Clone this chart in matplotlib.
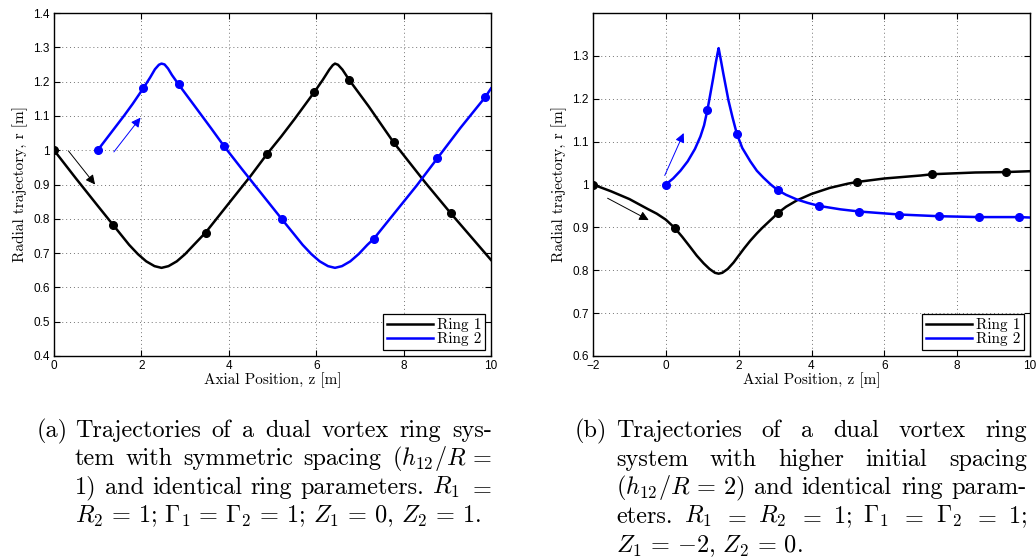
import numpy as np
import matplotlib
matplotlib.use("Agg")
import matplotlib.pyplot as plt

plt.rcParams['font.family'] = ['cmr10', 'DejaVu Serif']
plt.rcParams['mathtext.fontset'] = 'cm'
plt.rcParams['axes.formatter.use_mathtext'] = True

# ---- panel (a): symmetric spacing ----
a_z1 = [0, 0.5, 1.0, 1.36, 1.72, 1.92, 2.11, 2.3, 2.46, 2.62, 2.81, 3.0, 3.2, 3.47,
        4.0, 4.5, 4.87, 5.2, 5.5, 5.96, 6.15, 6.3, 6.38, 6.43, 6.5, 6.6, 6.76, 7.2, 7.77,
        8.5, 9.08, 10]
a_r1 = [1.0, 0.918, 0.838, 0.781, 0.724, 0.697, 0.676, 0.662, 0.657, 0.662, 0.676, 0.697,
        0.724, 0.760, 0.845, 0.925, 0.988, 1.04, 1.09, 1.170, 1.205, 1.235, 1.248, 1.2525,
        1.249, 1.235, 1.204, 1.128, 1.023, 0.905, 0.816, 0.68]
a_z2 = [1.0, 1.3, 1.6, 1.8, 2.04, 2.2, 2.31, 2.4, 2.46, 2.53, 2.61, 2.7, 2.85, 3.2, 3.6,
        3.89, 4.3, 4.8, 5.22, 5.5, 5.69, 5.89, 6.08, 6.27, 6.43, 6.59, 6.78, 6.97, 7.17, 7.32,
        7.8, 8.3, 8.77, 9.3, 9.87, 10]
a_r2 = [1.0, 1.05, 1.10, 1.135, 1.180, 1.212, 1.236, 1.249, 1.2525, 1.250, 1.238, 1.219,
        1.192, 1.132, 1.063, 1.012, 0.945, 0.865, 0.798, 0.754, 0.724, 0.697, 0.676, 0.662,
        0.657, 0.662, 0.676, 0.697, 0.724, 0.742, 0.818, 0.897, 0.976, 1.065, 1.155, 1.18]
a_mz1 = [0, 1.36, 3.47, 4.87, 5.96, 6.76, 7.77, 9.08]
a_mr1 = [1.0, 0.781, 0.760, 0.988, 1.170, 1.204, 1.023, 0.816]
a_mz2 = [1.0, 2.04, 2.85, 3.89, 5.22, 7.32, 8.77, 9.87]
a_mr2 = [1.0, 1.180, 1.192, 1.012, 0.798, 0.742, 0.976, 1.155]
a_arrows = [((0.33, 0.998), (0.94, 0.900), 'black'),
            ((1.37, 0.995), (1.98, 1.095), 'blue')]
a_yticks = [0.4, 0.5, 0.6, 0.7, 0.8, 0.9, 1.0, 1.1, 1.2, 1.3, 1.4]
a_ylabels = ['0.4', '0.5', '0.6', '0.7', '0.8', '0.9', '1', '1.1', '1.2', '1.3', '1.4']
a_xticks = [0, 2, 4, 6, 8, 10]

# ---- panel (b): higher initial spacing ----
b_z1 = [-2, -1.5, -1.0, -0.5, -0.25, 0, 0.24, 0.45, 0.67, 0.85, 1.04, 1.2, 1.35, 1.45,
        1.55, 1.7, 1.86, 2.0, 2.15, 2.32, 2.5, 2.65, 2.8, 2.95, 3.07, 3.3, 3.6, 4.0, 4.5,
        5.0, 5.26, 6.0, 7.0, 7.32, 8.5, 9.34, 10]
b_r1 = [1.0, 0.984, 0.966, 0.943, 0.932, 0.918, 0.899, 0.878, 0.854, 0.834, 0.816, 0.803,
        0.794, 0.792, 0.794, 0.803, 0.818, 0.834, 0.851, 0.869, 0.886, 0.899, 0.911, 0.923,
        0.933, 0.948, 0.963, 0.978, 0.992, 1.002, 1.006, 1.014, 1.021, 1.024, 1.028, 1.029,
        1.031]
b_z2 = [0, 0.2, 0.4, 0.6, 0.8, 0.95, 1.05, 1.14, 1.22, 1.3, 1.37, 1.42, 1.45, 1.52, 1.58,
        1.65, 1.72, 1.83, 1.95, 2.1, 2.32, 2.5, 2.68, 2.88, 3.07, 3.3, 3.6, 3.9, 4.21, 4.8,
        5.31, 6.41, 7.51, 8.61, 9.69, 10]
b_r2 = [1.0, 1.014, 1.032, 1.054, 1.083, 1.112, 1.138, 1.173, 1.21, 1.248, 1.283, 1.306,
        1.318, 1.286, 1.258, 1.227, 1.196, 1.157, 1.118, 1.085, 1.054, 1.032, 1.016, 1.000,
        0.987, 0.976, 0.965, 0.957, 0.950, 0.942, 0.937, 0.930, 0.926, 0.924, 0.924, 0.923]
b_mz1 = [-2, 0.24, 3.07, 5.26, 7.32, 9.34]
b_mr1 = [1.0, 0.899, 0.933, 1.006, 1.024, 1.029]
b_mz2 = [0, 1.14, 1.95, 3.07, 4.21, 5.31, 6.41, 7.51, 8.61, 9.69]
b_mr2 = [1.0, 1.173, 1.118, 0.987, 0.950, 0.937, 0.930, 0.926, 0.924, 0.924]
b_arrows = [((-1.60, 0.968), (-0.47, 0.917), 'black'),
            ((-0.03, 1.021), (0.49, 1.120), 'blue')]
b_yticks = [0.6, 0.7, 0.8, 0.9, 1.0, 1.1, 1.2, 1.3]
b_ylabels = ['0.6', '0.7', '0.8', '0.9', '1', '1.1', '1.2', '1.3']
b_xticks = [-2, 0, 2, 4, 6, 8, 10]

cap_a = [["Trajectories", "of", "a", "dual", "vortex", "ring", "sys-"],
         ["tem", "with", "symmetric", "spacing", r"$(h_{12}/R\,=$"],
         ["1)", "and", "identical", "ring", "parameters.", r"$R_1$", r"$=$"],
         [r"$R_2\,=\,1;\,\Gamma_1\,=\,\Gamma_2\,=\,1;\,Z_1\,=\,0,\,Z_2\,=\,1.$"]]
cap_b = [["Trajectories", "of", "a", "dual", "vortex", "ring"],
         ["system", "with", "higher", "initial", "spacing"],
         [r"$(h_{12}/R\,=\,2)$", "and", "identical", "ring", "param-"],
         ["eters.", r"$R_1$", r"$=$", r"$R_2$", r"$=$", r"$1;$", r"$\Gamma_1$", r"$=$",
          r"$\Gamma_2$", r"$=$", r"$1;$"],
         [r"$Z_1\,=\,{-}2,\,Z_2\,=\,0.$"]]

W, H = 1036, 560
fig = plt.figure(figsize=(W / 100, H / 100), dpi=100)
ax_a = fig.add_axes([54 / W, 1 - 356 / H, 437 / W, 343 / H])
ax_b = fig.add_axes([593 / W, 1 - 356 / H, 437 / W, 343 / H])

tickfont = dict(family='Liberation Sans', size=8.5)


def draw(ax, z1, r1, z2, r2, mz1, mr1, mz2, mr2, arrows, xlim, ylim, xticks, yticks, ylabels):
    ax.plot(z1, r1, color='black', lw=1.8, label='Ring 1', zorder=3)
    ax.plot(z2, r2, color='blue', lw=1.8, label='Ring 2', zorder=3)
    ax.plot(mz1, mr1, 'o', color='black', ms=5.5, zorder=4)
    ax.plot(mz2, mr2, 'o', color='blue', ms=5.5, zorder=4)
    for start, end, c in arrows:
        ax.annotate('', xy=end, xytext=start,
                    arrowprops=dict(arrowstyle='-|>', color=c, lw=0.7,
                                    mutation_scale=14, shrinkA=0, shrinkB=0))
    ax.set_xlim(*xlim)
    ax.set_ylim(*ylim)
    ax.set_xticks(xticks)
    ax.set_xticklabels([str(t).replace('-', '\u2212') for t in xticks], fontdict=tickfont)
    ax.set_yticks(yticks)
    ax.set_yticklabels(ylabels, fontdict=tickfont)
    ax.grid(True, linestyle=(0, (1, 3)), color='0.45', lw=0.7)
    ax.tick_params(direction='in', length=4, width=0.8, top=True, right=True, pad=3)
    for s in ax.spines.values():
        s.set_linewidth(1.0)
    ax.set_xlabel('Axial Position, z [m]', fontsize=11, labelpad=0)
    ax.set_ylabel('Radial trajectory, r [m]', fontsize=11, labelpad=4)
    leg = ax.legend(loc='lower right', fontsize=11, fancybox=False, framealpha=1,
                    edgecolor='black', borderpad=0.25, handlelength=3.0, handletextpad=0.25,
                    labelspacing=0.0, borderaxespad=0.4)
    leg.get_frame().set_linewidth(0.9)


draw(ax_a, a_z1, a_r1, a_z2, a_r2, a_mz1, a_mr1, a_mz2, a_mr2, a_arrows,
     (0, 10), (0.4, 1.4), a_xticks, a_yticks, a_ylabels)
draw(ax_b, b_z1, b_r1, b_z2, b_r2, b_mz1, b_mr1, b_mz2, b_mr2, b_arrows,
     (-2, 10), (0.6, 1.4), b_xticks, b_yticks, b_ylabels)

# ---- captions, justified ----
CAP_SIZE = 17.5
renderer = fig.canvas.get_renderer()


def caption(tag, lines, xtag, x0, x1, y0, pitch):
    fig.text(xtag / W, 1 - y0 / H, tag, fontsize=CAP_SIZE, va='baseline')
    for i, words in enumerate(lines):
        y = 1 - (y0 + i * pitch) / H
        if len(words) == 1:
            fig.text(x0 / W, y, words[0], fontsize=CAP_SIZE, va='baseline')
            continue
        ts = [fig.text(0, y, w, fontsize=CAP_SIZE, va='baseline') for w in words]
        widths = [t.get_window_extent(renderer).width for t in ts]
        gap = (x1 - x0 - sum(widths)) / (len(words) - 1)
        x = x0
        for t, w in zip(ts, widths):
            t.set_x(x / W)
            x += w + gap


caption('(a)', cap_a, 37, 75, 492, 437, 28.4)
caption('(b)', cap_b, 575, 616, 1027, 437, 28.7)

fig.savefig('out.png', dpi=100)
